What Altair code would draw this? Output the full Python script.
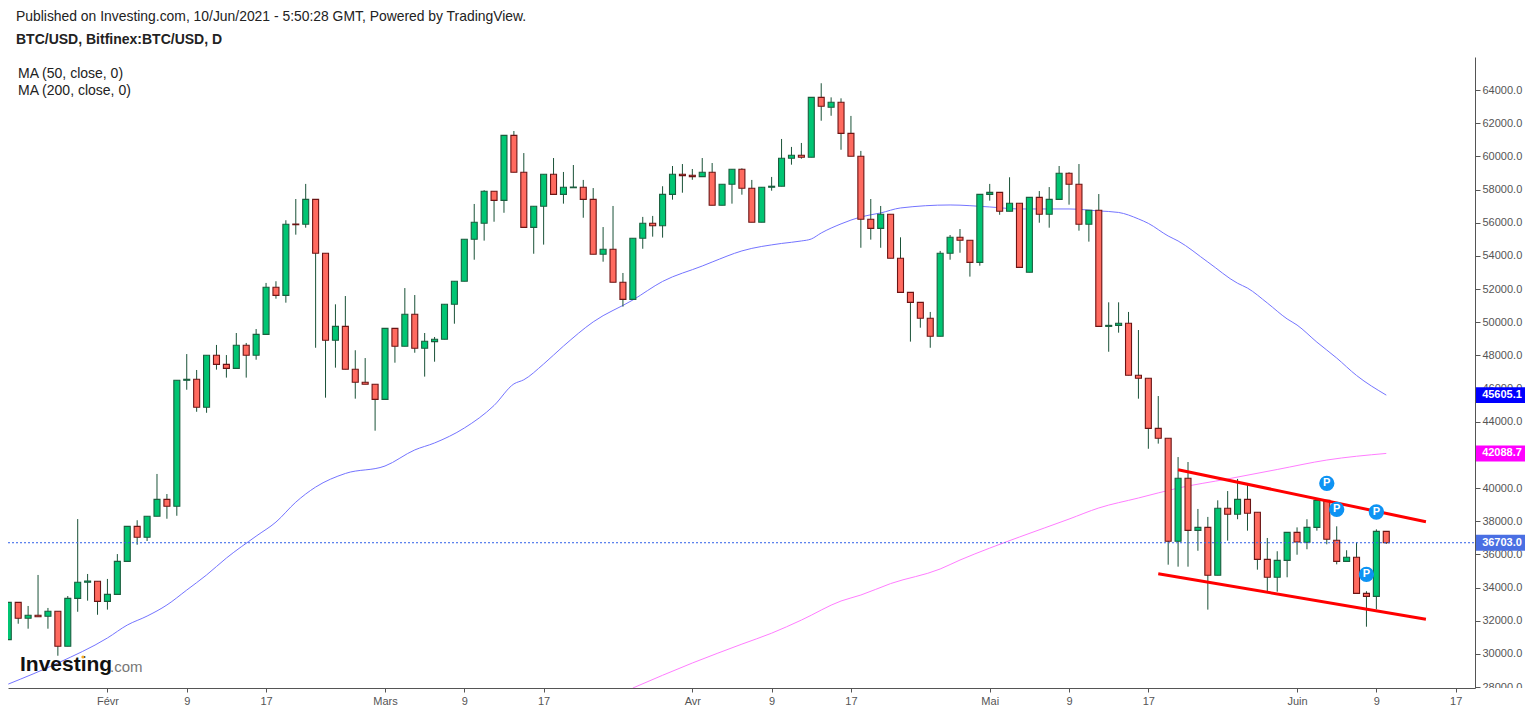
import altair as alt
import pandas as pd

start = "2021-01-22"
opens = [30860,33110,32150,32330,32270,32570,30460,33350,34320,34380,33170,33590,35580,37690,37030,38300,39320,38900,46500,46560,
44870,48010,47460,47220,48610,48010,49270,52110,51620,55920,55910,57410,54160,48910,49750,47160,46380,46260,45350,49630,
48550,50480,48430,48830,48970,51080,52470,55000,55970,57900,57350,61270,59040,55720,56990,58920,57710,58110,58140,57410,
54100,54400,52410,51380,55060,55970,55820,57710,58920,58860,58780,59040,57050,58320,59220,58080,56030,58140,58200,59890,
60070,59950,63560,62960,63260,61390,60010,56210,55660,56510,53860,51800,51200,50240,49150,54160,55120,54940,53610,57710,
57830,56690,57170,53010,57530,56510,57410,58980,58320,55910,56750,49750,49810,49940,46800,46620,43600,43000,36790,40590,
37450,37630,34740,38780,38420,39320,38540,35700,34620,35640,37330,36730,37630,39260,36850,35580,35830,33650,33470,37390]
highs = [33110,33110,32890,34760,32770,32570,33490,38130,34820,34380,34520,36020,37690,38060,38300,40850,39640,46500,48080,47120,
48010,48630,48020,49350,48750,49590,52370,52470,56150,57430,58340,57410,54160,51080,51580,48310,47840,46260,49630,49630,
52060,51640,49350,49110,51080,52470,55000,57130,57960,57900,61270,61530,60200,56990,58920,59900,59060,59480,58580,58090,
55740,57010,52970,55060,56350,56410,58200,59420,59540,59240,59900,59600,58320,59220,59280,58580,58140,58760,61050,60570,
60810,63560,64410,63560,63500,62440,60330,57430,57010,56510,55120,51800,51200,50620,54300,55260,55620,54940,57710,58340,
57830,58740,57170,57530,57910,58150,59420,59040,59540,56750,57730,51200,51200,50620,49530,46620,45550,43000,41870,41570,
38740,38260,39260,39820,40550,40180,38540,36990,36190,37330,37630,38120,39260,39260,37690,36250,36730,33780,37510,37390]
lows = [30860,31820,31520,32240,31520,29890,30460,32540,33210,32360,32670,33590,35580,36590,36810,38300,38150,38330,45930,44600,
44540,47140,46660,47220,46660,47740,49270,51420,51180,55280,55700,48460,45450,47260,47160,45390,46260,43460,45350,47560,
48550,48160,46720,47620,48970,49910,52470,53770,54920,56060,56600,59040,55720,54130,54680,57710,57150,58110,56300,54100,
53650,52410,50940,51380,54430,55160,55100,57390,57810,58590,58780,57050,57050,57150,57690,56030,56030,57930,58200,59500,
59860,59950,62150,62450,60400,60010,54490,54980,54490,53860,51800,48830,49670,48460,49150,53770,54190,52750,53410,57330,
56480,56690,53310,53010,56000,55700,57410,57090,55520,54860,49750,48220,49370,46800,45390,42370,42680,35380,35260,35260,
36220,32670,34740,36830,38120,37430,35080,33780,33750,34620,35980,36310,37430,36610,35400,35580,33650,31640,32690,36630]
closes = [33110,32150,32330,32240,32570,30460,33350,34320,34400,33170,33590,35580,37690,37030,38300,39320,38900,46500,46560,44870,
48010,47460,47220,48610,48010,49270,52110,51620,55910,55880,57410,54160,48910,49750,47160,46380,46260,45350,49630,48550,
50480,48430,48850,48970,51080,52470,55000,56030,57900,57350,61270,59040,55720,56990,58920,57710,58140,58150,57410,54100,
54400,52410,51380,55060,55970,55820,57710,58920,58840,58780,59040,57050,58320,59220,58080,56030,58140,58200,59890,60070,
59950,63560,63020,63260,61390,60010,56210,55660,56510,53860,51800,51200,50240,49150,54160,55120,54940,53610,57710,57830,
56690,57170,53310,57530,56510,57410,58980,58320,55910,56750,49750,49810,49940,46800,46620,43600,43000,36790,40590,37450,
37630,34740,38780,38420,39320,38480,35700,34620,35640,37330,36750,37630,39260,36910,35580,35830,33650,33470,37390,36703]

ma50_dates = ["2021-01-22","2021-01-27","2021-02-01","2021-02-03","2021-02-05","2021-02-07","2021-02-09","2021-02-11","2021-02-13",
"2021-02-16","2021-02-18","2021-02-20","2021-02-22","2021-02-25","2021-03-01","2021-03-04","2021-03-06","2021-03-09","2021-03-12",
"2021-03-14","2021-03-15","2021-03-17","2021-03-19","2021-03-22","2021-03-26","2021-03-29","2021-04-02","2021-04-03","2021-04-06","2021-04-10",
"2021-04-12","2021-04-13","2021-04-14","2021-04-16","2021-04-18","2021-04-20","2021-04-22","2021-04-27","2021-05-01","2021-05-04",
"2021-05-09","2021-05-12","2021-05-14","2021-05-16","2021-05-17","2021-05-19","2021-05-20","2021-05-23","2021-05-26","2021-05-27",
"2021-05-29","2021-05-31","2021-06-01","2021-06-03","2021-06-05","2021-06-07","2021-06-10"]
ma50_values = [28180,29450,30960,31740,32280,32950,33850,34760,35780,37100,37950,39150,40060,40880,41330,42300,42720,43620,44980,
46280,46530,47480,48560,50020,51340,52460,53390,53630,54300,54750,54900,55020,55380,55930,56350,56590,56890,57070,56950,56830,
56830,56710,56620,56230,55960,55200,54900,53630,52350,52060,51160,50200,49830,48800,47840,46790,45605.1]
ma200_dates = ["2021-03-26","2021-04-01","2021-04-06","2021-04-09","2021-04-12","2021-04-16","2021-04-18","2021-04-21","2021-04-26",
"2021-04-28","2021-05-01","2021-05-04","2021-05-09","2021-05-12","2021-05-16","2021-05-20","2021-05-25","2021-05-30","2021-06-04","2021-06-10"]
ma200_values = [27944,29450,30590,31250,32040,33190,33550,34240,35120,35660,36380,37050,38130,38800,39400,40000,40550,41120,41690,42088.7]

upper_dates = ["2021-05-20","2021-06-14"]
upper_values = [41108,37972]
lower_dates = ["2021-05-18","2021-06-14"]
lower_values = [34836,32086]
pivot_dates = ["2021-06-04","2021-06-05","2021-06-08","2021-06-09"]
pivot_values = [40287,38719,34799,38556]
tag_values = ["45605.1","42088.7","36703.0"]
tag_prices = [45605.1,42088.7,36703.0]
tag_colors = ["#0000ff","#ff00ff","#4a6fe3"]
tick_dates = ["2021-02-01","2021-02-09","2021-02-17","2021-03-01","2021-03-09","2021-03-17","2021-04-01","2021-04-09","2021-04-17",
"2021-05-01","2021-05-09","2021-05-17","2021-06-01","2021-06-09","2021-06-17"]
price_ticks = list(range(28000, 66000, 2000))
month_names = ["Janv","Févr","Mars","Avr","Mai","Juin"]

W, H = 1467, 631
FONT = "Liberation Sans"
ms = lambda s: pd.Timestamp(s, tz="UTC").timestamp() * 1000

candles = pd.DataFrame({"date": pd.date_range(start, periods=len(opens)).strftime("%Y-%m-%d"),
                        "open": opens, "high": highs, "low": lows, "close": closes})
candles["dir"] = ["up" if c >= o else "down" for o, c in zip(opens, closes)]

xscale = alt.Scale(type="utc", domain=[ms("2021-01-21 23:17"), ms("2021-06-18 22:48")], padding=0)
yscale = alt.Scale(domain=[27944, 65993], zero=False, nice=False)

x_axis = alt.Axis(values=[ms(t) for t in tick_dates], title=None, grid=False, tickSize=4, tickColor="#555555",
                  domainColor="#555555", labelColor="#555555", labelFont=FONT, labelFontSize=11, labelPadding=3,
                  labelOverlap=False, labelFlush=False,
                  labelExpr="utcdate(datum.value) == 1 ? " + str(month_names) + "[utcmonth(datum.value)] : '' + utcdate(datum.value)")
y_axis = alt.Axis(orient="right", values=price_ticks, title=None, grid=False, tickSize=5, tickColor="#555555",
                  domainColor="#555555", labelColor="#555555", labelFont=FONT, labelFontSize=11, labelPadding=2,
                  format=".1f", labelOverlap=False, labelFlush=False)
X = alt.X("date:T", scale=xscale, axis=x_axis)
Y = lambda f: alt.Y(f"{f}:Q", scale=yscale, axis=y_axis)

one = pd.DataFrame({"k": [0]})

def label(text, x, y, size=13.9, weight="normal", color="#222222"):
    return alt.Chart(one).mark_text(text=text, align="left", baseline="middle", font=FONT, fontSize=size,
                                    fontWeight=weight, color=color).encode(x=alt.value(x), y=alt.value(y))

def line_df(dates, values):
    return pd.DataFrame({"date": dates, "price": values})

ma50 = alt.Chart(line_df(ma50_dates, ma50_values)).mark_line(color="#7474ff", strokeWidth=1, interpolate="monotone", clip=True).encode(
    x=X, y=Y("price"))
ma200 = alt.Chart(line_df(ma200_dates, ma200_values)).mark_line(color="#ff7dff", strokeWidth=1, interpolate="monotone", clip=True).encode(
    x=X, y=Y("price"))

wicks = alt.Chart(candles).mark_rule(color="#1a5238", strokeWidth=1, clip=True).encode(x=X, y=Y("low"), y2="high:Q")
bodies = alt.Chart(candles).mark_bar(size=6, strokeWidth=1.1, clip=True).encode(
    x=X, y=Y("open"), y2="close:Q",
    fill=alt.Fill("dir:N", scale=alt.Scale(domain=["up", "down"], range=["#00c573", "#ff6a5f"]), legend=None),
    stroke=alt.Stroke("dir:N", scale=alt.Scale(domain=["up", "down"], range=["#1a5e3e", "#6b1414"]), legend=None))

price_line = alt.Chart(pd.DataFrame({"price": [36703.0]})).mark_rule(color="#2f5fe8", strokeWidth=1, strokeDash=[2, 2]).encode(
    y=Y("price"), x=alt.value(0), x2=alt.value(W))

upper = alt.Chart(line_df(upper_dates, upper_values)).mark_line(color="#ff0000", strokeWidth=3).encode(x=X, y=Y("price"))
lower = alt.Chart(line_df(lower_dates, lower_values)).mark_line(color="#ff0000", strokeWidth=3).encode(x=X, y=Y("price"))

pivots_df = line_df(pivot_dates, pivot_values)
pivots = alt.Chart(pivots_df).mark_circle(size=235, color="#0e93f3", opacity=1).encode(x=X, y=Y("price"))
pivot_text = alt.Chart(pivots_df).mark_text(text="P", color="white", font=FONT, fontSize=11, fontWeight="bold", baseline="middle").encode(x=X, y=Y("price"))

cover = alt.Chart(one).mark_rect(color="white").encode(
    x=alt.value(W + 1), x2=alt.value(W + 50), y=alt.value(H), y2=alt.value(H + 16))

tags_df = pd.DataFrame({"label": tag_values, "price": tag_prices, "color": tag_colors})
tags = alt.Chart(tags_df).transform_calculate(top="datum.price + 480", bottom="datum.price - 480").mark_rect().encode(
    y=alt.Y("top:Q", scale=yscale, axis=y_axis), y2="bottom:Q",
    x=alt.value(W + 1), x2=alt.value(W + 51),
    color=alt.Color("color:N", scale=None, legend=None))
tag_text = alt.Chart(tags_df).mark_text(color="white", font=FONT, fontSize=11, fontWeight="bold", align="center", baseline="middle").encode(
    y=Y("price"), x=alt.value(W + 27), text="label:N")

logo_dot = alt.Chart(one).mark_point(filled=True, size=10, color="#f5a623", opacity=1).encode(x=alt.value(75), y=alt.value(600))

chart = alt.layer(
    ma50, ma200, wicks, bodies, price_line, upper, lower, pivots, pivot_text,
    cover, tags, tag_text,
    label("Published on Investing.com, 10/Jun/2021 - 5:50:28 GMT, Powered by TradingView.", 8, -40),
    label("BTC/USD, Bitfinex:BTC/USD, D", 8, -17, size=14, weight="bold"),
    label("MA (50, close, 0)", 10, 16.5, size=14),
    label("MA (200, close, 0)", 10, 33.5, size=14),
    label("Investing", 12, 608, size=21, weight="bold", color="#111111"),
    label(".com", 102, 610, size=15, color="#777777"),
    logo_dot,
).properties(
    width=W, height=H,
    autosize=alt.AutoSizeParams(type="none"),
    padding={"left": 0, "top": 49, "right": 50, "bottom": 22},
    background="white",
).configure_view(stroke=None)

chart.save("out.html", embed_options={"renderer": "svg", "actions": False})
